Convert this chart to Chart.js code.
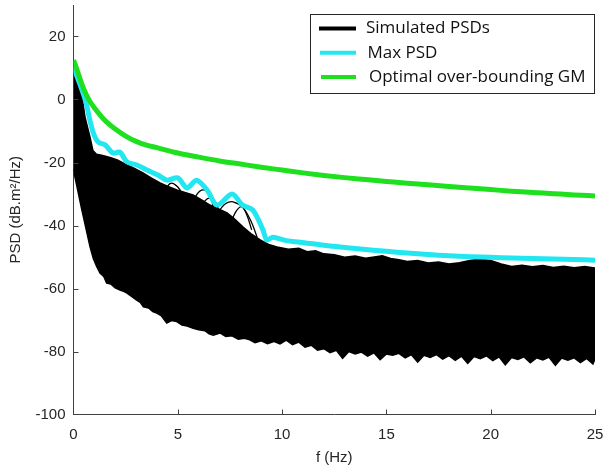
<!DOCTYPE html>
<html>
<head>
<meta charset="utf-8">
<script src="https://cdn.jsdelivr.net/npm/chart.js@4.4.1/dist/chart.umd.min.js"></script>
<style>
  html, body { margin: 0; padding: 0; background: #fff; }
  #wrap { width: 616px; height: 470px; }
</style>
</head>
<body>
<div id="wrap"><canvas id="psdChart" width="616" height="470"></canvas></div>
<script>
// axis ticks
const xTicks = [0, 5, 10, 15, 20, 25];
const yTicks = [-100, -80, -60, -40, -20, 0, 20];

// optimal over-bounding GM (green)
const gmFreq = [0, 0.1, 0.25, 0.5, 0.75, 1, 1.5, 2, 2.5, 3, 3.5, 4, 5, 6, 7, 8, 9, 10, 11, 12, 13, 14, 15, 16, 17, 18, 19, 20, 21, 22, 23, 24, 25];
const gmPsd = [12.5, 10.8, 7.8, 3.2, -0.2, -2.6, -6.6, -9.4, -11.6, -13.3, -14.5, -15.3, -17, -18.3, -19.5, -20.5, -21.5, -22.4, -23.3, -24.1, -24.8, -25.4, -26, -26.6, -27.1, -27.6, -28.1, -28.6, -29.1, -29.5, -29.9, -30.3, -30.6];

// max PSD (cyan)
const maxFreq = [0, 0.3, 0.6, 0.8, 1.0, 1.2, 1.51, 1.89, 2.23, 2.56, 3.04, 3.52, 4.05, 4.48, 5.0, 5.44, 5.9, 6.4, 6.88, 7.6, 8.1, 8.6, 9.08, 9.27, 9.56, 10.2, 10.86, 12, 13, 14, 15, 16, 17, 18, 19, 20, 21, 22, 23, 24, 25];
const maxPsd = [10.3, 5, -1, -7, -11.5, -13.6, -14.4, -17, -16.7, -19.8, -20.8, -22.4, -24, -25.6, -24.9, -28.1, -25.6, -28.7, -33.5, -30, -33.5, -35.1, -41.4, -44.6, -43.7, -44.8, -45.3, -46.3, -47, -47.6, -48.2, -48.7, -49.2, -49.6, -49.9, -50.1, -50.3, -50.5, -50.6, -50.8, -51];

// simulated PSDs: upper edge of the bundle
const topFreq = [0, 0.15, 0.31, 0.45, 0.55, 0.68, 0.79, 0.93, 1.1, 1.4, 1.75, 2.1, 2.56, 2.9, 3.33, 3.7, 4.15, 4.5, 4.96, 5.3, 5.73, 6.1, 6.54, 6.9, 7.36, 7.7, 8.13, 8.5, 8.95, 9.35, 9.76, 10.3, 10.8, 11.2, 11.6, 12, 12.5, 13, 13.5, 14, 14.5, 14.8, 15.2, 15.6, 16, 16.5, 17, 17.5, 18, 18.5, 19, 19.5, 20, 20.5, 21, 21.5, 22, 22.5, 23, 23.5, 24, 24.5, 25];
const topPsd = [8.7, 7, 5.2, -1, -5.5, -9, -11.9, -16.2, -17.4, -17.8, -18.4, -19.2, -20.8, -21.8, -23.3, -24.8, -26.5, -27.5, -28.7, -29.4, -30.3, -31.7, -33.5, -34.6, -36, -37.8, -40.5, -42.6, -44.6, -46, -46.8, -47.5, -47.2, -48.3, -48, -49, -49.3, -50.1, -49.7, -50.4, -49.9, -49.6, -50.5, -50.9, -51.4, -51.1, -51.9, -51.6, -52.2, -51.8, -51.1, -50.6, -51.1, -52.2, -53, -52.6, -53.1, -52.7, -53.3, -52.9, -53.4, -53, -53.5];

// simulated PSDs: lower edge of the bundle
const lowFreq = [0, 0.07, 0.4, 0.79, 0.95, 1.11, 1.27, 1.45, 1.59, 1.8, 2.0, 2.23, 2.4, 2.55, 2.8, 3.03, 3.2, 3.35, 3.6, 3.8, 3.99, 4.2, 4.47, 4.7, 4.95, 5.2, 5.45, 5.74, 6.0, 6.3, 6.5, 6.7, 7.02, 7.3, 7.6, 7.9, 8.2, 8.45, 8.7, 9.0, 9.3, 9.6, 9.9, 10.2, 10.5, 10.8, 11.1, 11.4, 11.7, 12.0, 12.3, 12.6, 12.9, 13.2, 13.5, 13.8, 14.1, 14.4, 14.7, 15.0, 15.3, 15.6, 15.9, 16.2, 16.5, 16.8, 17.1, 17.4, 17.7, 18.0, 18.3, 18.6, 18.9, 19.2, 19.5, 19.8, 20.1, 20.4, 20.7, 21.0, 21.3, 21.6, 21.9, 22.2, 22.5, 22.8, 23.1, 23.4, 23.7, 24.0, 24.3, 24.6, 24.9, 25.0];
const lowPsd = [-22, -24.6, -35, -46.7, -50.5, -53, -55.1, -56.2, -58.3, -58.6, -59.8, -60.5, -60.9, -61.4, -62.6, -63.7, -64.4, -65.8, -66.2, -67.3, -67.8, -68.6, -71, -70.2, -70.5, -71.6, -71.9, -72.6, -73.1, -73.4, -74.4, -74.8, -74.1, -75.2, -75, -76.1, -75.8, -76.3, -77.2, -76.6, -77.5, -76.8, -77.6, -76.4, -77.8, -77, -78.6, -78, -79.6, -79.1, -80.4, -79.6, -82.2, -80, -80.8, -80.2, -81.5, -80.4, -82.6, -80.8, -81.2, -80.6, -82, -81, -83.4, -81.2, -81.9, -81, -82.4, -81.3, -82.8, -81.5, -83.8, -81.6, -82.3, -81.4, -82.9, -81.7, -84.2, -81.9, -82.5, -81.7, -83.6, -82, -82.7, -81.8, -84.4, -82.1, -82.8, -82, -83.5, -82.2, -84, -82.4];

// single PSD lobes sticking out of the bundle
const arcFreq = [
  [5.67, 5.9, 6.22, 6.54, 6.78],
  [6.0, 6.3, 6.6, 6.9, 7.1],
  [7.02, 7.3, 7.65, 8.13, 8.5, 8.8],
  [7.42, 7.75, 8.06, 8.3, 8.54],
  [4.3, 4.65, 5.0, 5.3]
];
const arcPsd = [
  [-34.5, -30.3, -28.7, -30.3, -37.2],
  [-36, -32.2, -31.3, -34, -38],
  [-35, -33, -32.5, -34.4, -38.5, -43.7],
  [-41.4, -36, -34, -36.5, -41.4],
  [-30, -26.6, -27.8, -31]
];

const legendLabels = ['Simulated PSDs', 'Max PSD', 'Optimal over-bounding GM'];
const legendColors = ['#000000', '#22e6f0', '#1ee01e'];

function toPoints(freq, psd) {
  return freq.map((f, i) => ({ x: f, y: psd[i] }));
}

const datasets = [];
datasets.push({
  data: toPoints(gmFreq, gmPsd),
  borderColor: legendColors[2], borderWidth: 5,
  cubicInterpolationMode: 'monotone', order: 0
});
datasets.push({
  data: toPoints(maxFreq, maxPsd),
  borderColor: legendColors[1], borderWidth: 5,
  tension: 0.3, order: 1
});
arcFreq.forEach((f, i) => {
  datasets.push({
    data: toPoints(f, arcPsd[i]),
    borderColor: '#000', borderWidth: 1.3,
    tension: 0.4, order: 2
  });
});
datasets.push({
  data: toPoints(topFreq, topPsd),
  borderColor: '#000', borderWidth: 1.5,
  backgroundColor: '#000', fill: '+1', order: 3
});
datasets.push({
  data: toPoints(lowFreq, lowPsd),
  borderColor: '#000', borderWidth: 1.5, order: 4
});

// MATLAB-like inward tick marks (skip the ones sitting on the other axis)
const inwardTicks = {
  id: 'inwardTicks',
  afterDatasetsDraw(chart) {
    const { ctx, chartArea, scales } = chart;
    ctx.save();
    ctx.strokeStyle = '#404040';
    ctx.lineWidth = 1;
    ctx.beginPath();
    xTicks.slice(1).forEach(v => {
      const px = Math.round(scales.x.getPixelForValue(v)) + 0.5;
      ctx.moveTo(px, chartArea.bottom);
      ctx.lineTo(px, chartArea.bottom - 5);
    });
    yTicks.slice(1).forEach(v => {
      const py = Math.round(scales.y.getPixelForValue(v)) + 0.5;
      ctx.moveTo(chartArea.left, py);
      ctx.lineTo(chartArea.left + 5, py);
    });
    ctx.stroke();
    ctx.restore();
  }
};

// boxed legend in the top right corner
const boxLegend = {
  id: 'boxLegend',
  afterDraw(chart) {
    const ctx = chart.ctx;
    ctx.save();
    ctx.fillStyle = '#fff';
    ctx.fillRect(310.5, 14.5, 284, 79);
    ctx.strokeStyle = '#262626';
    ctx.lineWidth = 1;
    ctx.strokeRect(310.5, 14.5, 284, 79);
    ctx.font = '17px "Open Sans"';
    ctx.textBaseline = 'middle';
    legendLabels.forEach((label, i) => {
      const y = 28.5 + i * 24.3;
      ctx.strokeStyle = legendColors[i];
      ctx.lineWidth = 4;
      ctx.beginPath();
      ctx.moveTo(319 + i, y);
      ctx.lineTo(356, y);
      ctx.stroke();
      ctx.fillStyle = '#111';
      ctx.fillText(label, 366 + i * 1.5, y);
    });
    ctx.restore();
  }
};

const tickFont = { family: '"Liberation Sans", Arial, sans-serif', size: 15 };

new Chart(document.getElementById('psdChart'), {
  type: 'line',
  data: { datasets: datasets },
  options: {
    responsive: false,
    animation: false,
    layout: { padding: { top: 5, right: 21, left: 0, bottom: 0 } },
    elements: { point: { radius: 0 } },
    plugins: { legend: { display: false }, tooltip: { enabled: false } },
    scales: {
      x: {
        type: 'linear', min: 0, max: 25,
        afterBuildTicks: s => { s.ticks = xTicks.map(v => ({ value: v })); },
        afterFit: s => { s.height = 55.5; s.paddingLeft = 0; s.paddingRight = 0; },
        grid: { display: true, drawOnChartArea: false, drawTicks: false },
        border: { display: true, color: '#404040', width: 1 },
        ticks: { font: tickFont, color: '#262626', padding: 11, maxRotation: 0 },
        title: { display: true, text: 'f (Hz)', font: tickFont, color: '#262626', padding: { top: 0, bottom: 3 } }
      },
      y: {
        type: 'linear', min: -100, max: 30,
        afterBuildTicks: s => { s.ticks = yTicks.map(v => ({ value: v })); },
        afterFit: s => { s.width = 73.5; s.paddingTop = 0; s.paddingBottom = 0; },
        grid: { display: true, drawOnChartArea: false, drawTicks: false },
        border: { display: true, color: '#404040', width: 1 },
        ticks: { font: tickFont, color: '#262626', padding: 8 },
        title: { display: true, text: 'PSD (dB.m²/Hz)', font: tickFont, color: '#262626', padding: { top: 7, bottom: 0 } }
      }
    }
  },
  plugins: [inwardTicks, boxLegend]
});
</script>
</body>
</html>
